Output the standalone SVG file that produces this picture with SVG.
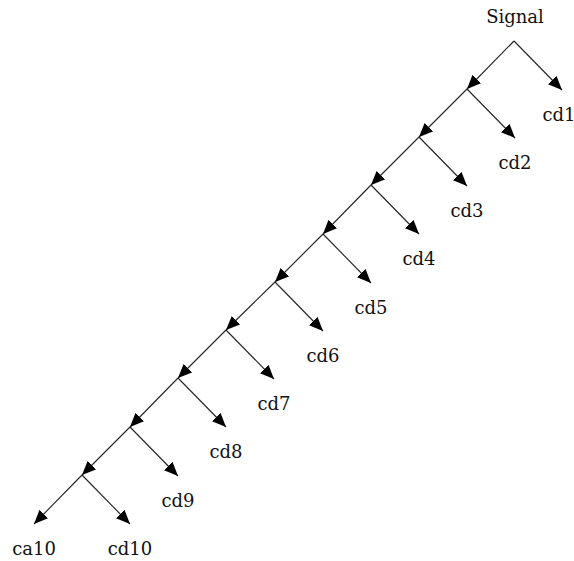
<svg xmlns="http://www.w3.org/2000/svg" width="574" height="561" viewBox="0 0 574 561">
  <style>
    .lbl { font-family: 'DejaVu Serif', serif; font-size: 18px; fill: #111; text-anchor: middle; }
    .edge { stroke: #222; stroke-width: 1.1; fill: none; marker-end: url(#arrow); }
  </style>
  <defs>
    <marker id="arrow" markerUnits="userSpaceOnUse" markerWidth="16" markerHeight="13" refX="14" refY="6" orient="auto">
      <path d="M0,0 L14,6 L0,12 z" fill="#000"/>
    </marker>
  </defs>
  <rect width="574" height="561" fill="#fff"/>

  <!-- decomposition tree connectors -->
  <g id="connectors">
    <!-- approximation branch (down-left) -->
    <line class="edge" x1="514" y1="41" x2="467" y2="89"/>
    <line class="edge" x1="467" y1="89" x2="419" y2="137"/>
    <line class="edge" x1="419" y1="137" x2="371" y2="185"/>
    <line class="edge" x1="371" y1="185" x2="323" y2="234"/>
    <line class="edge" x1="323" y1="234" x2="275" y2="282"/>
    <line class="edge" x1="275" y1="282" x2="226" y2="330"/>
    <line class="edge" x1="226" y1="330" x2="178" y2="378"/>
    <line class="edge" x1="178" y1="378" x2="130" y2="427"/>
    <line class="edge" x1="130" y1="427" x2="82" y2="475"/>
    <line class="edge" x1="82" y1="475" x2="34" y2="524"/>
    <!-- detail branches (down-right) -->
    <line class="edge" x1="514" y1="41" x2="562" y2="90"/>
    <line class="edge" x1="467" y1="89" x2="515" y2="138"/>
    <line class="edge" x1="419" y1="137" x2="467" y2="186"/>
    <line class="edge" x1="371" y1="185" x2="419" y2="234"/>
    <line class="edge" x1="323" y1="234" x2="371" y2="283"/>
    <line class="edge" x1="275" y1="282" x2="323" y2="331"/>
    <line class="edge" x1="226" y1="330" x2="274" y2="379"/>
    <line class="edge" x1="178" y1="378" x2="226" y2="427"/>
    <line class="edge" x1="130" y1="427" x2="178" y2="476"/>
    <line class="edge" x1="82" y1="475" x2="130" y2="524"/>
  </g>

  <g id="signal"><text class="lbl" x="515" y="23">Signal</text></g>
  <g id="cd1"><text class="lbl" x="559" y="121">cd1</text></g>
  <g id="cd2"><text class="lbl" x="515" y="169">cd2</text></g>
  <g id="cd3"><text class="lbl" x="467" y="217">cd3</text></g>
  <g id="cd4"><text class="lbl" x="419" y="265">cd4</text></g>
  <g id="cd5"><text class="lbl" x="371" y="314">cd5</text></g>
  <g id="cd6"><text class="lbl" x="323" y="362">cd6</text></g>
  <g id="cd7"><text class="lbl" x="274" y="410">cd7</text></g>
  <g id="cd8"><text class="lbl" x="226" y="458">cd8</text></g>
  <g id="cd9"><text class="lbl" x="178" y="507">cd9</text></g>
  <g id="ca10"><text class="lbl" x="34" y="555">ca10</text></g>
  <g id="cd10"><text class="lbl" x="130" y="555">cd10</text></g>
</svg>
